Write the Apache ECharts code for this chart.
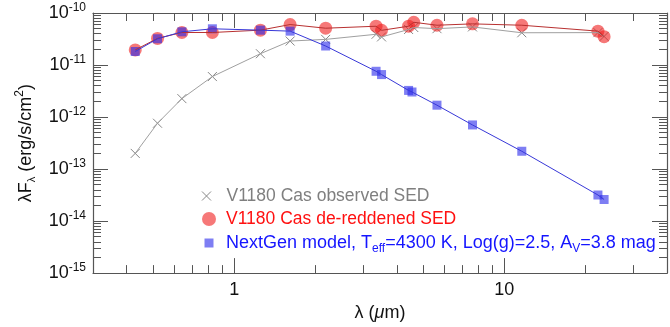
<!DOCTYPE html>
<html>
<head>
<meta charset="utf-8">
<script src="https://cdn.jsdelivr.net/npm/echarts@6/dist/echarts.min.js"></script>
<style>
    html, body {margin: 0; padding: 0; background: #fff;}
    #chart {width: 670px; height: 327px;}
</style>
</head>
<body>
<div id="chart"></div>
<script>
// wavelengths in micron, fluxes in erg/s/cm2
const wavelengths = [0.43, 0.52, 0.64, 0.83, 1.25, 1.61, 2.18, 3.35, 3.51, 4.42, 4.62, 5.63, 7.62, 11.6, 22.2, 23.4];
const observedSED = [2.0e-13, 7.6e-13, 2.26e-12, 6.0e-12, 1.65e-11, 2.89e-11, 3.11e-11, 3.9e-11, 3.47e-11, 4.82e-11, 5.26e-11, 5.0e-11, 5.4e-11, 4.17e-11, 4.2e-11, 3.55e-11];
const dereddenedSED = [1.95e-11, 3.25e-11, 4.22e-11, 4.22e-11, 4.68e-11, 6.0e-11, 5.1e-11, 5.57e-11, 4.65e-11, 5.57e-11, 6.63e-11, 5.82e-11, 6.18e-11, 5.82e-11, 4.48e-11, 3.5e-11];
const modelWavelengths = [0.43, 0.52, 0.64, 0.83, 1.25, 1.61, 2.18, 3.35, 3.51, 4.42, 4.55, 5.63, 7.62, 11.6, 22.2, 23.4];
const modelSED = [1.82e-11, 3.2e-11, 4.35e-11, 4.97e-11, 4.68e-11, 4.48e-11, 2.32e-11, 7.58e-12, 6.55e-12, 3.25e-12, 3.03e-12, 1.69e-12, 7.05e-13, 2.2e-13, 3.17e-14, 2.6e-14];

const xMajorLabels = [1, 10];
const xMinorTicks = [0.4, 0.5, 0.6, 0.7, 0.8, 0.9, 2, 3, 4, 5, 6, 7, 8, 9, 20, 30];
const yDecades = [-15, -14, -13, -12, -11];
const yMantissas = [2, 3, 4, 5, 6, 7, 8, 9];

const xRange = [0.3, 40];
const yRange = [1e-15, 1e-10];

const font = 'Liberation Sans, Arial, Helvetica, sans-serif';
const axisColor = '#555';
const crossPath = 'path://M0,0L10,10M10,0L0,10';

const yMinorLog = [];
yDecades.forEach(d => yMantissas.forEach(m => yMinorLog.push(d + Math.log10(m))));
const xMinorLog = xMinorTicks.map(v => Math.log10(v));

const pairs = (xs, ys) => xs.map((x, i) => [x, ys[i]]);

const majorTick = {show: true, inside: true, length: 15, lineStyle: {color: axisColor, width: 1}};
const minorTick = {show: true, inside: true, length: 8, lineStyle: {color: axisColor, width: 1}};

function logAxis(pos, range, extra) {
    return Object.assign({
        type: 'log', logBase: 10, position: pos, min: range[0], max: range[1],
        axisLine: {show: true, onZero: false, lineStyle: {color: axisColor, width: 1.2}},
        axisTick: majorTick,
        axisLabel: {show: false},
        splitLine: {show: false}
    }, extra || {});
}

function minorAxis(pos, range, ticks) {
    return {
        type: 'value', position: pos,
        min: Math.log10(range[0]), max: Math.log10(range[1]),
        axisLine: {show: false, onZero: false},
        axisTick: Object.assign({customValues: ticks}, minorTick),
        axisLabel: {show: false},
        splitLine: {show: false}
    };
}

const chart = echarts.init(document.getElementById('chart'), null, {renderer: 'canvas'});

const option = {
    animation: false,
    backgroundColor: '#fff',
    textStyle: {fontFamily: font},
    grid: {left: 93, right: 1, top: 13, bottom: 50, containLabel: false},
    xAxis: [
        logAxis('bottom', xRange, {
            axisLabel: {
                show: true, fontSize: 18, color: '#111', margin: 8, fontFamily: font,
                formatter: v => xMajorLabels.some(t => Math.abs(t - v) < 1e-6) ? String(Math.round(v)) : ''
            },
            name: 'λ ({i|μ}m)',
            nameLocation: 'middle',
            nameGap: 25,
            nameTextStyle: {
                fontSize: 18, color: '#111', fontFamily: font,
                rich: {i: {fontSize: 18, fontStyle: 'italic', color: '#111', fontFamily: font}}
            }
        }),
        minorAxis('bottom', xRange, xMinorLog),
        logAxis('top', xRange),
        minorAxis('top', xRange, xMinorLog)
    ],
    yAxis: [
        logAxis('left', yRange, {
            axisLabel: {
                show: true, margin: 7, fontFamily: font,
                formatter: v => '{b|10}{s|' + Math.round(Math.log10(v)) + '}',
                rich: {
                    b: {fontSize: 18, lineHeight: 22, color: '#111', fontFamily: font},
                    s: {fontSize: 12, lineHeight: 12, verticalAlign: 'top', color: '#111', fontFamily: font}
                }
            },
            name: '{n|λF}{u|λ}{n| (erg/s/cm}{p|2}{n|)}',
            nameLocation: 'middle',
            nameGap: 52,
            nameRotate: 90,
            nameTextStyle: {
                fontFamily: font,
                rich: {
                    n: {fontSize: 18, lineHeight: 24, color: '#111', fontFamily: font},
                    u: {fontSize: 11, lineHeight: 10, verticalAlign: 'bottom', color: '#111', fontFamily: font},
                    p: {fontSize: 12, lineHeight: 12, verticalAlign: 'top', color: '#111', fontFamily: font}
                }
            }
        }),
        minorAxis('left', yRange, yMinorLog),
        logAxis('right', yRange),
        minorAxis('right', yRange, yMinorLog)
    ],
    legend: [
        {
            data: [{
                name: 'V1180 Cas observed SED', icon: crossPath,
                itemStyle: {color: 'rgba(0,0,0,0)', borderColor: '#888', borderWidth: 1}
            }],
            left: 196.5, top: 182, itemWidth: 9, itemHeight: 9, selectedMode: false,
            textStyle: {fontSize: 17.5, color: '#7f7f7f', fontFamily: font, padding: [0, 0, 0, 10.5]}
        },
        {
            data: [{name: 'V1180 Cas de-reddened SED', icon: 'circle'}],
            left: 197, top: 205, itemWidth: 14, itemHeight: 14, selectedMode: false,
            textStyle: {fontSize: 17.5, color: '#ff1010', fontFamily: font, padding: [0, 0, 0, 5]}
        },
        {
            data: [{name: 'NextGen model', icon: 'rect'}],
            left: 199.5, top: 226, itemWidth: 9, itemHeight: 9, selectedMode: false,
            formatter: () => 'NextGen model, T{sub|eff}=4300 K, Log(g)=2.5, A{sub|V}=3.8 mag',
            textStyle: {
                fontSize: 18, color: '#1515ff', fontFamily: font, lineHeight: 24, padding: [0, 0, 0, 7.5],
                rich: {sub: {fontSize: 12, lineHeight: 11, verticalAlign: 'bottom', color: '#1515ff', fontFamily: font}}
            }
        }
    ],
    series: [
        {
            type: 'line', data: pairs(wavelengths, observedSED), showSymbol: false, silent: true,
            lineStyle: {color: '#a0a0a0', width: 1}
        },
        {
            name: 'V1180 Cas observed SED', type: 'scatter', data: pairs(wavelengths, observedSED),
            symbol: crossPath, symbolSize: 9,
            itemStyle: {color: 'rgba(0,0,0,0)', borderColor: '#888', borderWidth: 1, opacity: 1}
        },
        {
            type: 'line', data: pairs(wavelengths, dereddenedSED), showSymbol: false, silent: true,
            lineStyle: {color: '#b83030', width: 1}
        },
        {
            name: 'V1180 Cas de-reddened SED', type: 'scatter', data: pairs(wavelengths, dereddenedSED),
            symbol: 'circle', symbolSize: 13,
            itemStyle: {color: 'rgba(240,30,30,0.6)', opacity: 1}
        },
        {
            type: 'line', data: pairs(modelWavelengths, modelSED), showSymbol: false, silent: true,
            lineStyle: {color: '#3838d8', width: 1}
        },
        {
            name: 'NextGen model', type: 'scatter', data: pairs(modelWavelengths, modelSED),
            symbol: 'rect', symbolSize: 9,
            itemStyle: {color: 'rgba(40,40,235,0.6)', opacity: 1}
        }
    ]
};

chart.setOption(option);
</script>
</body>
</html>
